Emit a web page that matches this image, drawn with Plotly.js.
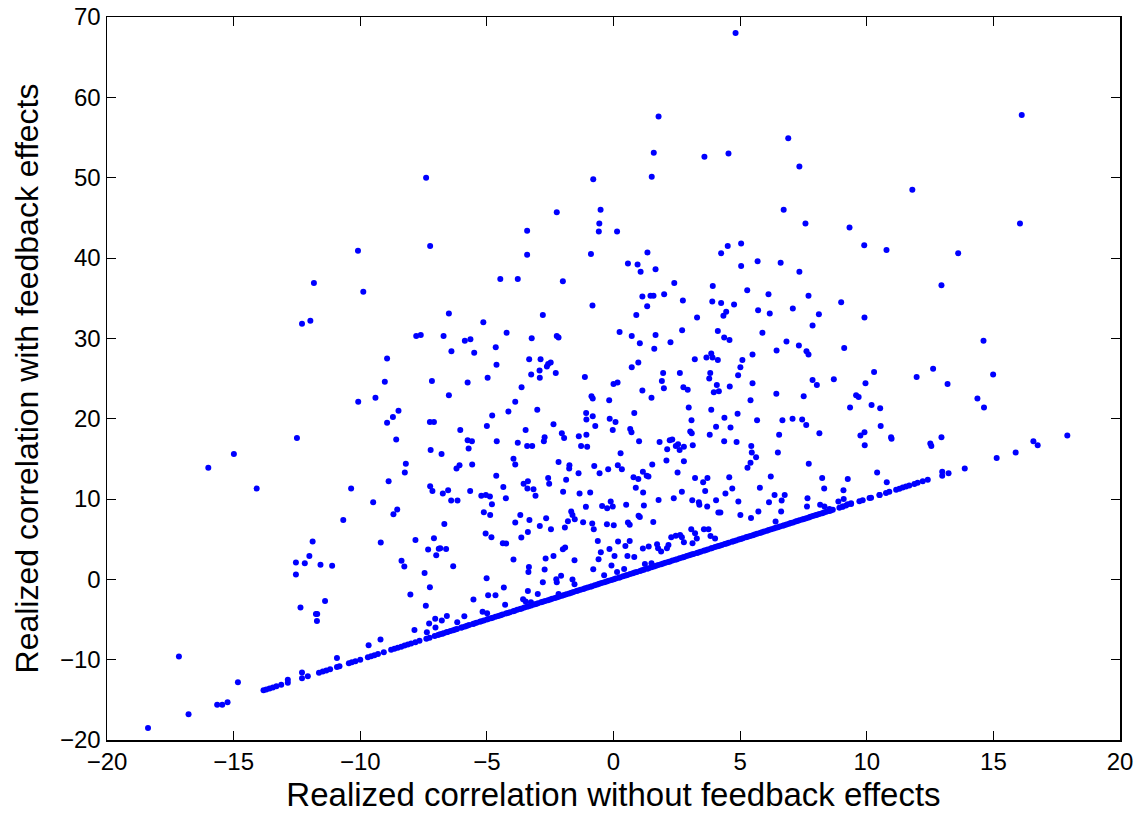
<!DOCTYPE html>
<html>
<head>
<meta charset="utf-8">
<script src="https://cdn.plot.ly/plotly-3.0.1.min.js"></script>
<style>html,body{margin:0;padding:0;background:#fff;}#chart{width:1140px;height:817px;}</style>
</head>
<body>
<div id="chart"></div>
<script>
// Scattered points (above the diagonal)
const xScatter = [
-7.40,-10.09,-7.24,
4.82,1.78,1.59,3.59,4.54,-0.80,1.51,-2.24,-0.51,-0.56,-3.41,-0.58,0.14,4.51,5.04,4.25,-3.41,-0.89,1.34,
16.12,6.90,7.34,11.80,6.72,7.58,9.32,16.05,9.90,10.78,13.61,
-11.83,-9.88,-12.30,-11.97,-7.79,-7.61,-8.94,-9.03,-7.17,-10.08,-9.40,-8.49,-8.71,-8.94,-7.25,-7.09,-12.50,-8.58,-14.99,-7.22,-16.00,-8.20,-8.24,-8.88,-14.09,-10.36,-7.24,-7.15,
0.57,0.95,1.07,1.66,5.04,5.69,
-4.47,-3.78,-2.00,2.40,3.92,5.28,6.12,
1.14,1.46,1.58,2.00,2.74,3.90,4.25,4.76,-0.83,1.33,
-6.50,-2.79,0.90,4.45,4.34,3.30,5.71,6.17,-5.14,
-6.71,-5.87,-5.65,-4.22,-3.23,-2.24,-2.17,0.24,0.72,1.66,2.71,4.12,4.37,4.58,5.88,1.04,2.25,
-6.40,-5.50,-4.65,1.61,6.44,
-3.33,-2.88,-2.63,-2.58,-2.48,-2.92,-4.62,-3.25,-2.91,-2.28,0.98,0.72,3.21,3.67,3.86,3.91,4.12,5.09,5.01,5.49,
1.96,2.62,3.82,4.92,3.78,1.91,1.99,2.76,2.93,4.08,3.96,4.16,4.59,5.49,
-5.76,-4.97,0.00,0.16,-1.13,-3.63,-6.50,-0.87,-0.82,-0.17,1.14,1.50,5.41,-3.88,2.97,
-4.15,-3.01,0.82,3.86,4.90,-4.79,-1.08,-0.82,-1.07,-0.15,0.08,3.08,4.38,5.67,
-5.00,-0.72,-0.03,0.66,0.71,3.03,3.09,4.05,4.62,3.80,6.54,
-6.05,-3.47,-2.37,-2.04,-1.95,-2.72,-2.75,-1.37,-1.07,
-5.76,-5.59,-4.61,-3.78,-5.72,-3.41,-3.21,-1.28,-1.04,1.01,1.82,2.22,2.32,2.12,2.46,2.55,2.61,2.78,3.13,4.37,4.86,5.44,5.46,5.63,6.49,
-6.79,-3.95,-3.88,0.28,-6.20,-6.08,-5.58,-2.17,-1.74,-1.75,-0.76,-0.21,0.17,0.33,1.53,2.78,2.09,5.41,5.29,
-4.63,-1.38,-0.55,1.16,1.31,1.38,2.53,0.79,0.98,-2.58,-2.54,-1.87,3.22,3.71,3.54,4.57,6.21,
-3.55,-3.38,-4.35,-3.40,-3.16,-5.66,-6.53,-6.74,-1.99,-1.34,-0.92,0.88,1.17,2.70,3.62,4.42,4.69,5.78,
6.60,7.34,12.95,7.70,7.08,8.11,8.99,9.91,7.86,6.83,7.32,7.62,7.70,9.11,14.61,10.29,12.62,11.97,14.99,13.19,7.86,8.03,8.70,9.95,6.43,7.51,9.58,9.68,9.34,10.19,10.53,14.37,14.63,6.67,7.07,7.45,7.61,10.55,8.13,9.75,9.91,10.96,10.98,12.95,9.92,12.51,12.55,17.92,16.58,16.75,15.88,15.13,7.71,13.87,8.24,9.25,10.41,8.32,9.08,10.79,12.98,12.98,13.23,6.76,7.66,9.09,10.51,
-9.49,-8.69,-8.54,-10.67,-11.88,-9.19,-7.82,-7.09,-7.32,-7.00,-6.90,-12.01,-12.54,-12.19,-11.57,-11.11,-12.54,-8.37,-8.26,-7.46,-7.25,-8.02,-12.36,-11.39,-11.75,-11.70,-11.71,-7.41,-7.04,-7.28,-7.03,-7.86,-7.37,-9.67,-9.20,-10.92,-12.30,-12.86,-17.16,-14.83,-15.24,-15.65,-15.45,-16.78,-18.38,
-6.41,-6.16,-5.22,-5.04,-4.88,-4.80,-4.25,-3.08,-0.45,-0.25,-0.11,-0.03,0.50,1.20,1.78,2.38,3.11,3.37,3.39,3.70,4.05,4.93,6.14,6.36,
-5.12,-4.87,-6.68,-3.88,-3.68,-3.38,-3.32,-2.91,-2.66,-2.47,-1.92,-1.80,-1.67,-1.62,-1.53,-1.20,-1.09,-0.84,-0.78,-0.26,0.01,0.57,0.64,0.99,1.04,1.57,4.14,4.22,5.01,5.43,5.72,6.40,
-5.05,-4.82,-4.37,-4.24,-6.84,-6.61,-3.64,-0.62,-0.16,0.18,0.47,0.64,-2.00,-1.91,-6.33,-3.95,-2.68,-2.37,-1.54,-0.50,-0.59,0.04,0.55,0.82,1.16,1.39,1.72,1.76,1.88,2.11,2.17,2.28,2.46,2.63,2.70,3.07,3.22,3.57,3.75,3.29,3.12,3.83,4.01,2.78,
-5.01,-4.33,-4.95,-4.66,-5.53,-3.34,-3.36,-2.72,-2.79,-2.26,-2.24,-2.07,-1.62,-1.54,-0.80,-0.37,-0.08,0.14,0.42,1.24,1.50,-4.28,-3.38,-2.99,-3.57,-3.47,-3.26,-2.17,-5.17,-4.99,-5.89,-6.58,-6.78,-6.17,
6.62,6.64,7.64,8.16,8.33,8.53,8.88,9.05,9.25,9.38
];
const yScatter = [
50.0,40.9,41.5,
68.0,57.6,53.1,52.6,53.0,49.8,50.1,45.7,46.0,44.3,43.4,43.3,43.3,41.5,41.8,40.6,40.4,40.5,40.7,
57.8,54.9,51.4,48.5,46.0,44.3,43.8,44.3,41.6,41.0,40.6,
36.9,35.8,31.8,32.2,30.3,30.4,27.5,24.6,24.7,22.1,22.6,21.0,20.2,19.5,19.6,19.6,17.6,17.4,15.6,16.1,13.9,14.4,13.3,12.2,11.3,11.3,11.6,11.0,
39.3,39.2,38.3,38.6,39.0,39.6,
37.4,37.4,37.1,36.9,36.5,36.0,35.5,
35.2,35.3,35.3,35.5,34.7,34.6,34.4,34.2,34.1,34.0,
33.1,32.9,32.9,33.3,32.8,32.6,33.5,33.1,32.0,
30.3,29.7,29.9,30.7,30.0,30.3,30.1,30.8,30.3,30.4,31.0,30.9,30.1,29.8,30.7,29.4,29.5,
28.4,28.2,28.9,28.7,28.5,
27.4,27.4,26.5,26.8,27.0,26.0,26.7,25.5,25.1,25.7,27.0,26.4,27.4,27.6,28.1,27.6,27.3,27.3,26.4,28.0,
25.7,25.7,25.7,25.4,25.0,24.7,23.8,23.9,23.6,24.2,23.3,23.4,24.0,24.4,
24.5,25.1,24.3,24.5,25.2,23.9,22.9,22.8,22.5,22.3,23.5,22.6,22.3,22.1,21.4,
20.9,21.1,20.7,21.1,20.6,20.4,20.7,20.3,19.9,20.0,19.6,19.8,20.1,19.8,
19.1,19.1,18.6,18.7,18.3,18.4,18.2,19.0,18.9,18.0,18.0,
18.6,18.6,19.3,18.2,17.6,17.7,17.2,17.8,18.0,
17.3,17.2,17.2,17.0,16.3,16.6,16.6,16.6,16.5,17.2,17.1,17.3,17.4,16.2,16.6,16.8,16.1,16.5,16.7,17.2,17.1,16.6,15.8,15.2,15.8,
15.6,15.0,14.3,15.7,13.8,14.2,14.3,14.6,14.2,13.8,14.1,13.7,14.2,13.7,14.3,14.7,14.8,14.5,13.9,
12.9,13.2,13.2,13.4,12.9,12.8,13.3,12.7,12.5,12.6,11.9,12.4,12.6,12.6,12.1,12.7,12.8,
11.9,12.2,11.5,11.3,11.2,11.0,11.1,10.7,10.9,10.7,10.8,11.4,10.8,10.9,11.0,10.7,11.3,11.4,
39.4,38.3,36.6,35.3,33.7,33.0,34.5,32.6,31.6,29.6,29.1,28.4,28.0,28.8,29.7,25.8,26.2,25.2,25.5,24.3,24.8,24.2,24.9,24.4,23.1,22.8,22.9,22.7,21.4,21.7,21.3,22.5,21.4,19.8,20.0,19.9,19.2,19.1,18.2,17.9,18.3,17.7,17.5,17.7,16.7,16.9,16.6,17.9,17.2,16.7,15.8,15.1,14.4,13.8,12.6,12.5,13.3,11.3,11.1,12.1,13.4,12.9,13.2,10.5,10.1,10.0,10.5,
9.6,8.1,8.7,7.4,4.7,4.6,4.9,5.1,3.7,3.0,3.8,2.9,2.1,2.0,1.8,1.7,0.6,2.3,1.6,0.8,-1.0,-1.9,-3.5,-2.7,-4.3,-4.3,-5.2,-3.3,-4.9,-5.5,-6.0,-6.3,-6.6,-8.2,-7.5,-9.8,-11.6,-12.5,-9.6,-12.8,-15.3,-15.6,-15.6,-16.8,-18.5,
9.81,9.81,10.39,10.51,10.30,9.35,10.10,10.39,9.14,8.85,9.68,9.06,9.27,9.19,9.89,10.10,9.85,9.60,9.27,9.06,9.85,9.68,9.60,10.51,
8.35,8.02,6.90,7.07,8.02,5.90,7.40,6.65,7.60,6.24,6.44,7.23,8.43,8.02,7.48,7.11,9.02,6.94,6.24,6.86,6.73,7.07,6.78,7.90,7.77,7.15,8.31,8.31,8.02,7.65,8.44,7.19,
5.70,5.24,4.49,4.45,3.87,3.79,5.20,4.78,3.79,4.70,4.16,4.78,3.74,3.95,1.63,2.46,2.58,2.91,2.38,3.37,2.50,2.91,2.91,2.79,3.83,4.08,4.37,3.87,3.45,3.87,4.28,5.24,5.44,5.53,5.24,6.24,5.74,6.24,6.24,5.07,4.49,5.40,5.07,4.62,
0.13,-1.03,-1.98,-1.98,-2.52,1.54,0.92,1.21,-0.37,0.01,-0.37,0.46,-0.03,-0.61,1.25,0.51,1.71,0.92,1.30,1.92,2.00,-3.15,-1.45,-1.82,-2.48,-2.77,-2.86,-1.82,-4.02,-4.23,-4.60,-4.56,-5.14,-5.35,
8.44,9.81,9.06,9.27,9.06,8.77,9.68,9.06,9.35,9.47
];
// Points lying on the diagonal (feedback had no effect)
const xDiagonal = [
-13.82,-13.71,-13.58,-13.45,-13.31,-13.12,-12.86,-12.30,-12.07,-11.63,-11.48,-11.34,-11.19,-10.92,-10.82,-10.45,-10.33,-10.19,-10.00,-9.70,-9.57,-9.44,-9.30,-9.07,-8.78,-8.65,-8.52,-8.38,-8.25,-8.12,-7.99,-7.82,-7.66,-7.39,-7.26,-7.06,-6.93,
-6.85,-6.76,-6.71,-6.60,-6.55,-6.44,-6.33,-6.25,-6.18,-6.02,-5.97,-5.86,-5.78,-5.70,-5.55,-5.50,-5.41,-5.28,-5.22,-5.12,-5.00,-4.95,-4.84,-4.77,-4.66,-4.55,-4.46,-4.38,-4.25,-4.18,-4.09,-3.96,-3.90,-3.80,-3.69,-3.62,-3.52,-3.42,-3.35,-3.25,-3.14,-3.06,-2.98,-2.86,-2.79,-2.70,-2.59,-2.50,-2.42,-2.31,-2.22,-2.14,-2.03,-1.95,-1.86,-1.75,-1.66,-1.58,-1.46,-1.40,-1.30,-1.19,-1.12,-1.02,-0.91,-0.85,-0.74,-0.64,-0.56,-0.47,-0.36,-0.27,-0.19,-0.08,0.01,0.09,0.21,0.27,0.38,0.48,0.55,0.66,0.76,0.84,0.92,1.05,1.12,1.20,1.33,1.39,1.50,1.60,1.68,1.77,1.88,1.96,2.05,2.16,2.23,2.33,2.44,2.51,2.61,2.72,2.79,2.89,2.99,3.08,3.16,3.29,3.35,3.44,3.56,3.63,3.72,3.84,3.90,4.01,4.11,4.19,4.28,4.39,4.47,4.55,4.68,4.74,4.84,4.95,5.03,5.11,5.23,5.30,5.40,5.50,5.58,5.67,5.78,5.86,5.95,6.06,6.13,6.23,6.33,6.41,
6.49,6.57,6.68,6.74,6.83,6.93,7.00,7.09,7.19,7.26,7.34,7.45,7.52,7.61,7.71,7.78,7.87,7.97,8.04,8.13,8.24,8.31,8.40,8.52,8.58,8.66,
8.92,9.05,9.18,9.38,9.71,9.84,10.11,10.17,10.50,10.76,10.89,11.16,11.29,11.42,11.55,11.68,11.88,12.01,12.21,12.41
];
const yDiagonal = [
-13.82,-13.71,-13.58,-13.45,-13.31,-13.12,-12.86,-12.30,-12.07,-11.63,-11.48,-11.34,-11.19,-10.92,-10.82,-10.45,-10.33,-10.19,-10.00,-9.70,-9.57,-9.44,-9.30,-9.07,-8.78,-8.65,-8.52,-8.38,-8.25,-8.12,-7.99,-7.82,-7.66,-7.39,-7.26,-7.06,-6.93,
-6.85,-6.76,-6.71,-6.60,-6.55,-6.44,-6.33,-6.25,-6.18,-6.02,-5.97,-5.86,-5.78,-5.70,-5.55,-5.50,-5.41,-5.28,-5.22,-5.12,-5.00,-4.95,-4.84,-4.77,-4.66,-4.55,-4.46,-4.38,-4.25,-4.18,-4.09,-3.96,-3.90,-3.80,-3.69,-3.62,-3.52,-3.42,-3.35,-3.25,-3.14,-3.06,-2.98,-2.86,-2.79,-2.70,-2.59,-2.50,-2.42,-2.31,-2.22,-2.14,-2.03,-1.95,-1.86,-1.75,-1.66,-1.58,-1.46,-1.40,-1.30,-1.19,-1.12,-1.02,-0.91,-0.85,-0.74,-0.64,-0.56,-0.47,-0.36,-0.27,-0.19,-0.08,0.01,0.09,0.21,0.27,0.38,0.48,0.55,0.66,0.76,0.84,0.92,1.05,1.12,1.20,1.33,1.39,1.50,1.60,1.68,1.77,1.88,1.96,2.05,2.16,2.23,2.33,2.44,2.51,2.61,2.72,2.79,2.89,2.99,3.08,3.16,3.29,3.35,3.44,3.56,3.63,3.72,3.84,3.90,4.01,4.11,4.19,4.28,4.39,4.47,4.55,4.68,4.74,4.84,4.95,5.03,5.11,5.23,5.30,5.40,5.50,5.58,5.67,5.78,5.86,5.95,6.06,6.13,6.23,6.33,6.41,
6.49,6.57,6.68,6.74,6.83,6.93,7.00,7.09,7.19,7.26,7.34,7.45,7.52,7.61,7.71,7.78,7.87,7.97,8.04,8.13,8.24,8.31,8.40,8.52,8.58,8.66,
8.92,9.05,9.18,9.38,9.71,9.84,10.11,10.17,10.50,10.76,10.89,11.16,11.29,11.42,11.55,11.68,11.88,12.01,12.21,12.41
];
const xTitle = "Realized correlation without feedback effects";
const yTitle = "Realized correlation with feedback effects";

const marker = {color: "#0000ff", size: 6, line: {width: 0}};
const traces = [
  {x: xScatter, y: yScatter, type: "scatter", mode: "markers", marker: marker, hoverinfo: "x+y"},
  {x: xDiagonal, y: yDiagonal, type: "scatter", mode: "markers", marker: marker, hoverinfo: "x+y"}
];
const axisCommon = {
  showline: true, linecolor: "#000", linewidth: 1.5, mirror: "ticks",
  ticks: "inside", ticklen: 9, tickwidth: 1, tickcolor: "#000",
  showgrid: false, zeroline: false,
  tickfont: {family: "Liberation Sans, Arial, sans-serif", size: 24, color: "#000"}
};
const layout = {
  width: 1140, height: 817,
  margin: {l: 107, r: 20, t: 17, b: 77},
  paper_bgcolor: "#fff", plot_bgcolor: "#fff",
  showlegend: false,
  font: {family: "Liberation Sans, Arial, sans-serif", color: "#000"},
  xaxis: Object.assign({}, axisCommon, {
    range: [-20, 20], dtick: 5, tick0: 0,
    title: {text: xTitle, font: {size: 33, color: "#000"}, standoff: 8}
  }),
  yaxis: Object.assign({}, axisCommon, {
    range: [-20, 70], dtick: 10, tick0: 0,
    title: {text: yTitle, font: {size: 32, color: "#000"}, standoff: 12}
  })
};
Plotly.newPlot("chart", traces, layout, {displayModeBar: false, staticPlot: true});
</script>
</body>
</html>
